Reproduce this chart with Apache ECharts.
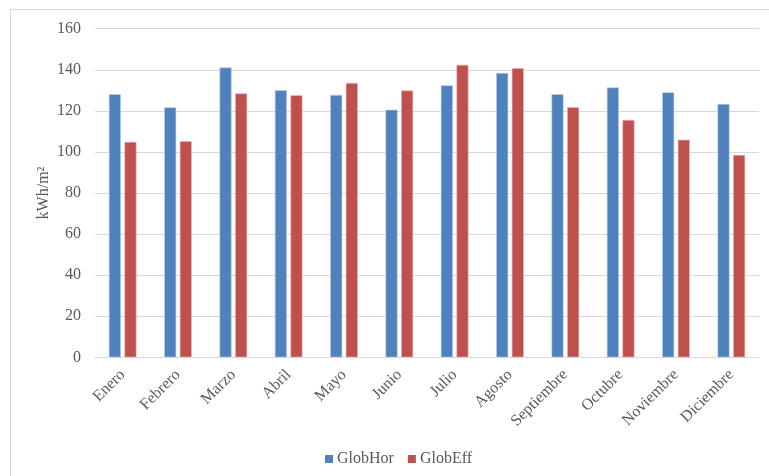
<!DOCTYPE html>
<html>
<head>
<meta charset="utf-8">
<script src="https://cdn.jsdelivr.net/npm/echarts@6/dist/echarts.min.js"></script>
<style>
html,body{margin:0;padding:0;background:#fff;}
#frame{position:absolute;left:10px;top:9px;width:800px;height:500px;border:1px solid #d9d9d9;box-sizing:border-box;}
#c{position:absolute;left:0;top:0;width:769px;height:476px;}
</style>
</head>
<body>
<div id="frame"></div>
<div id="c"></div>
<script>
const categories = ['Enero','Febrero','Marzo','Abril','Mayo','Junio','Julio','Agosto','Septiembre','Octubre','Noviembre','Diciembre'];
const globHor = [128.1, 121.7, 141.1, 130.0, 127.7, 120.5, 132.4, 138.4, 128.1, 131.4, 129.0, 123.3];
const globEff = [104.9, 105.2, 128.5, 127.6, 133.6, 129.9, 142.4, 140.8, 121.8, 115.6, 105.9, 98.5];
const yTicks = [0, 20, 40, 60, 80, 100, 120, 140, 160];

const font = '"Liberation Serif", "Times New Roman", serif';
const chart = echarts.init(document.getElementById('c'));
chart.setOption({
  animation: false,
  grid: {left: 95, right: 10, top: 28.7, bottom: 118.7, containLabel: false},
  legend: {
    top: 447, left: 321,
    itemWidth: 8, itemHeight: 8, itemGap: 14, padding: [4,4,4,4],
    icon: 'rect',
    itemStyle: {borderWidth: 0},
    textStyle: {fontFamily: font, fontSize: 16, color: '#595959', padding: [0,0,0,-1]},
    data: ['GlobHor','GlobEff']
  },
  xAxis: {
    type: 'category',
    data: categories,
    axisLine: {lineStyle: {color: '#d9d9d9', width: 1}},
    axisTick: {show: false},
    axisLabel: {rotate: 45, fontFamily: font, fontSize: 16, color: '#595959', margin: 15, interval: 0}
  },
  yAxis: {
    type: 'value',
    min: yTicks[0], max: yTicks[yTicks.length-1], interval: 20,
    name: 'kWh/m²', nameLocation: 'middle', nameGap: 43, nameMoveOverlap: false,
    nameTextStyle: {fontFamily: font, fontSize: 16, color: '#595959'},
    axisLine: {show: false},
    axisTick: {show: false},
    axisLabel: {fontFamily: font, fontSize: 16, color: '#595959', margin: 14},
    splitLine: {lineStyle: {color: '#d9d9d9', width: 1}}
  },
  series: [
    {name: 'GlobHor', type: 'bar', data: globHor, barWidth: 12, barGap: '30%',
     itemStyle: {color: '#4F81BD', borderColor: '#b9cde5', borderWidth: 0.6}},
    {name: 'GlobEff', type: 'bar', data: globEff, barWidth: 12,
     itemStyle: {color: '#C0504D', borderColor: '#e6b9b8', borderWidth: 0.6}}
  ]
});
</script>
</body>
</html>
